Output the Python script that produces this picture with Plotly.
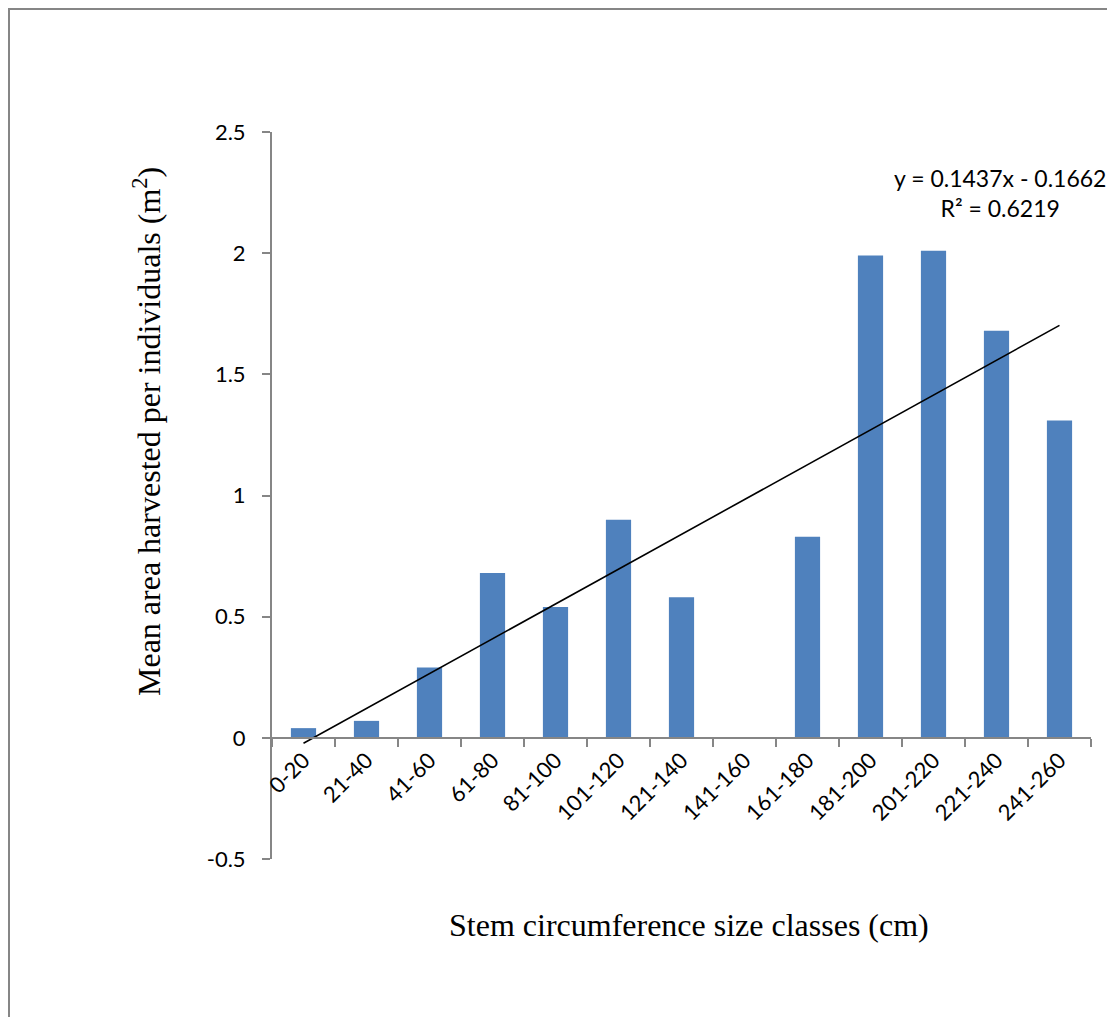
import plotly.graph_objects as go

categories = ["0-20", "21-40", "41-60", "61-80", "81-100", "101-120", "121-140",
              "141-160", "161-180", "181-200", "201-220", "221-240", "241-260"]
values = [0.04, 0.07, 0.29, 0.68, 0.54, 0.90, 0.58, 0.0, 0.83, 1.99, 2.01, 1.68, 1.31]
slope = 0.1437
intercept = -0.1662
r_squared = 0.6219
y_ticks = [-0.5, 0, 0.5, 1, 1.5, 2, 2.5]
y_tick_labels = ["-0.5", "0", "0.5", "1", "1.5", "2", "2.5"]

AX = "#868686"
SANS = "Lato, Open Sans, sans-serif"
SERIF = "Liberation Serif, Times New Roman, serif"
TICKFONT = dict(family=SANS, size=22, color="black")

# figure-pixel geometry of the plot area
L, T, PW, PH = 264, 124, 819, 727
W, H = 1115, 1017

trend_x = [categories[0], categories[-1]]
trend_y = [slope * 1 + intercept, slope * len(categories) + intercept]

fig = go.Figure()
fig.add_trace(go.Bar(x=categories, y=values, marker=dict(color="#4F81BD", line=dict(width=0)),
                     showlegend=False))
fig.add_trace(go.Scatter(x=trend_x, y=trend_y, mode="lines",
                         line=dict(color="black", width=1.6), showlegend=False))

def px_x(p):
    return (p - L) / PW

def px_y(p):
    return (T + PH - p) / PH

fig.update_layout(
    width=W, height=H,
    margin=dict(l=L, r=W - L - PW, t=T, b=H - T - PH),
    paper_bgcolor="white", plot_bgcolor="white",
    bargap=0.6,
    xaxis=dict(
        type="category", anchor="free", position=1/6,
        showline=True, linecolor=AX, linewidth=2,
        ticks="outside", ticklen=8, tickcolor=AX, tickwidth=2,
        tickson="boundaries", tickangle=-45, tickfont=TICKFONT,
        showgrid=False, zeroline=False,
    ),
    yaxis=dict(
        range=[-0.5, 2.5], tickvals=y_ticks, ticktext=y_tick_labels,
        showline=True, linecolor=AX, linewidth=2,
        ticks="outside", ticklen=8, tickcolor=AX, tickwidth=2,
        tickfont=TICKFONT, showgrid=False, zeroline=False,
        ticklabelstandoff=12,
    ),
    shapes=[dict(type="rect", xref="paper", yref="paper",
                 x0=px_x(1), x1=1.5, y0=-1.0, y1=px_y(1),
                 line=dict(color=AX, width=2), fillcolor="rgba(0,0,0,0)", layer="below")],
    annotations=[
        dict(text="y = 0.1437x - 0.1662<br>R² = 0.6219", xref="paper", yref="y",
             x=px_x(992), y=2.25, xanchor="center", yanchor="middle", showarrow=False,
             font=dict(family=SANS, size=23, color="black"),
             align="center"),
        dict(text="Mean area harvested per individuals (m<sup>2</sup>)", xref="paper", yref="y",
             x=px_x(139), y=1.262, xanchor="center", yanchor="middle",
             textangle=-90, showarrow=False,
             font=dict(family=SERIF, size=32, color="black")),
        dict(text="Stem circumference size classes (cm)", xref="paper", yref="paper",
             x=px_x(681), y=px_y(917), xanchor="center", yanchor="middle", showarrow=False,
             font=dict(family=SERIF, size=32, color="black")),
    ],
)

fig.write_html("out.html")
